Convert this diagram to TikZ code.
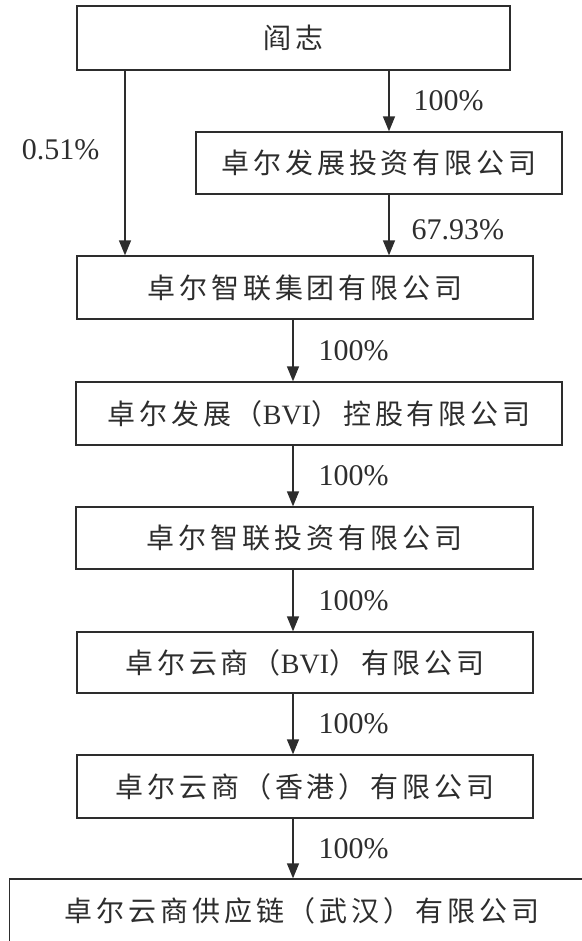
\documentclass[tikz,border=0pt]{standalone}
\usepackage{fontspec}
\setmainfont{Liberation Serif}
\newfontfamily\cjk[LetterSpace=14]{Noto Sans CJK SC}
\usetikzlibrary{arrows.meta}
\definecolor{ink}{RGB}{45, 45, 45}

\tikzset{
  firm/.style={draw=ink, line width=1.3pt, text=ink, inner sep=0pt,
               font=\cjk\fontsize{28}{30}\selectfont},
  pct/.style={text=ink, inner sep=0pt, font=\fontsize{30}{32}\selectfont},
  own/.style={draw=ink, line width=1.4pt, -{Triangle[length=15pt, width=12pt]}}
}

\begin{document}
\begin{tikzpicture}[x=1pt, y=-1pt]

  \useasboundingbox (0, 0) rectangle (581, 941);

  % companies, top to bottom
  \node[firm, minimum width=433pt, minimum height=64pt] (zhi)     at (293.5, 38)  {阎志};
  \node[firm, minimum width=366pt, minimum height=62pt] (fazhan)  at (379, 163)   {卓尔发展投资有限公司};
  \node[firm, minimum width=456pt, minimum height=63pt] (zhilian) at (305, 287.5) {卓尔智联集团有限公司};
  \node[firm, minimum width=486pt, minimum height=63pt] (fzbvi)   at (319, 413.5) {卓尔发展（{\rmfamily BVI}）控股有限公司};
  \node[firm, minimum width=457pt, minimum height=62pt] (zltz)    at (304.5, 538) {卓尔智联投资有限公司};
  \node[firm, minimum width=456pt, minimum height=61pt] (ysbvi)   at (305, 662.5) {卓尔云商（{\rmfamily BVI}）有限公司};
  \node[firm, minimum width=456pt, minimum height=63pt] (yshk)    at (305, 786.5) {卓尔云商（香港）有限公司};
  \node[firm, minimum width=585pt, minimum height=64pt] (ysgyl)   at (302, 911)   {卓尔云商供应链（武汉）有限公司};

  \coordinate (lx) at (125, 0);
  \coordinate (rx) at (389, 0);
  \coordinate (mx) at (293, 0);

  \draw[own] (zhi.south -| lx) -- node[pct, left=25pt, pos=0.43] (p0) {0.51\%} (zhilian.north -| lx);
  \draw[own] (zhi.south -| rx) -- node[pct, right=24pt] (p1) {100\%} (fazhan.north -| rx);
  \draw[own] (fazhan.south -| rx) -- node[pct, right=22pt, pos=0.58] (p2) {67.93\%} (zhilian.north -| rx);

  \foreach \a/\b [count=\n] in {zhilian/fzbvi, fzbvi/zltz, zltz/ysbvi, ysbvi/yshk, yshk/ysgyl} {
    \draw[own] (\a.south -| mx) -- node[pct, right=25pt] (q\n) {100\%} (\b.north -| mx);
  }

\end{tikzpicture}
\end{document}
